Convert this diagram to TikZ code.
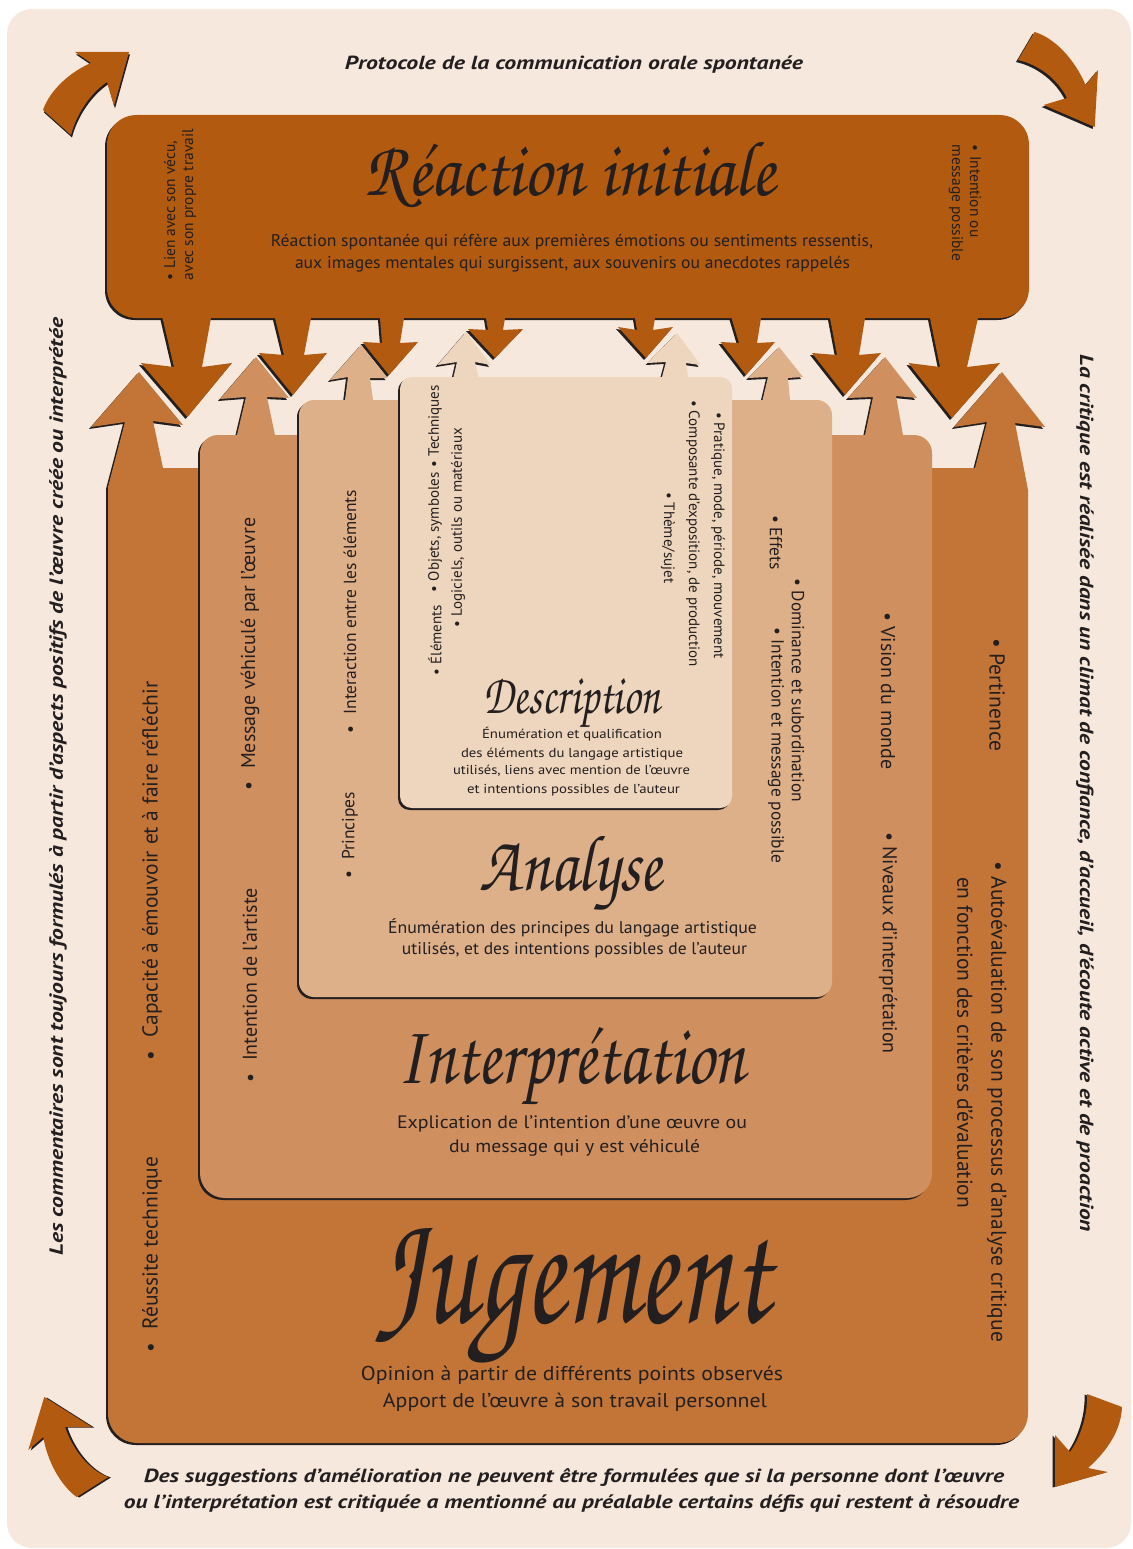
\documentclass[tikz,border=0pt]{standalone}
\usepackage{fontspec}
\setmainfont{PT Sans}
\newfontfamily\handf{TeX Gyre Chorus}
\usepackage{graphicx}
\definecolor{cream}{HTML}{F6E8DC}
\definecolor{cR}{HTML}{B15A10}
\definecolor{cJ}{HTML}{C27537}
\definecolor{cI}{HTML}{CF8F5F}
\definecolor{cA}{HTML}{DDB08A}
\definecolor{cD}{HTML}{EED5BD}
\definecolor{ink}{HTML}{231F20}
\tikzset{
  shad/.style={fill=ink, shift={(-2,2)}},
  tx/.style={text=ink, inner sep=0pt, outer sep=0pt},
  up/.style={rotate=90, anchor=west},
  dn/.style={rotate=-90, anchor=west},
  fD/.style={font=\fontsize{15}{18}\selectfont},
  fA/.style={font=\fontsize{17.5}{21}\selectfont},
  fI/.style={font=\fontsize{20}{24}\selectfont},
  fJ/.style={font=\fontsize{21.5}{26}\selectfont},
  fT/.style={font=\fontsize{15.5}{18}\selectfont},
  fB/.style={font=\fontsize{19}{19}\selectfont\bfseries\itshape},
}
\newcommand\pathTop{(107,145) .. controls (107,128) and (120,115) .. (137,115) -- (999,115) .. controls (1016,115) and (1029,128) .. (1029,145) -- (1029,288) .. controls (1029,305) and (1016,318) .. (999,318) -- (137,318) .. controls (120,318) and (107,305) .. (107,288) -- cycle}
\newcommand\pathJ{(108,487) -- (125,422) -- (91,427) -- (139,372) -- (183,425) -- (153,421) -- (163,468) -- (975,468) -- (987,422) -- (954,427) -- (1002,372) -- (1045,427) -- (1015,423) -- (1028,490) -- (1028,1413) .. controls (1028,1430) and (1015,1443) .. (998,1443) -- (138,1443) .. controls (121,1443) and (108,1430) .. (108,1413) -- cycle}
\newcommand\pathI{(200,453) .. controls (200,443) and (208,435) .. (218,435) -- (237,435) -- (246,397) -- (220,399) -- (256,357) -- (289,398) -- (267,397) -- (275,435) -- (865,435) -- (873,397) -- (848,398) -- (885,357) -- (917,398) -- (896,396) -- (903,435) -- (914,435) .. controls (924,435) and (932,443) .. (932,453) -- (932,1173) .. controls (932,1187) and (921,1198) .. (907,1198) -- (225,1198) .. controls (211,1198) and (200,1187) .. (200,1173) -- cycle}
\newcommand\pathA{(299,415) .. controls (299,407) and (306,400) .. (314,400) -- (345,400) -- (348,377) -- (330,380) -- (361,345) -- (387.5,378) -- (370,378) -- (373,400) -- (762.5,400) -- (768,377) -- (748,378) -- (779,347) -- (803,377) -- (788,378) -- (790,400) -- (817,400) .. controls (825,400) and (832,407) .. (832,415) -- (832,982) .. controls (832,990) and (825,997) .. (817,997) -- (314,997) .. controls (306,997) and (299,990) .. (299,982) -- cycle}
\newcommand\pathD{(400,389) .. controls (400,382) and (405,377) .. (412,377) -- (453.5,377) -- (457,362) -- (437.5,365) -- (466,332) -- (491,365) -- (475,362) -- (478.6,377) -- (662,377) -- (666,362) -- (647.6,363) -- (677,333) -- (700.5,365) -- (686,363) -- (688,377) -- (720,377) .. controls (727,377) and (732,382) .. (732,389) -- (732,796) .. controls (732,803) and (727,808) .. (720,808) -- (412,808) .. controls (405,808) and (400,803) .. (400,796) -- cycle}
\newcommand\pathTL{(43,110) .. controls (50,90) and (70,72) .. (91,63) -- (75,52) -- (129,52) -- (114,106) -- (107,82) .. controls (92,92) and (77,112) .. (71,135) -- cycle}
\newcommand\pathTR{(1034.5,32) .. controls (1055,38) and (1075,60) .. (1085.5,85) -- (1098,70) -- (1094.7,127) -- (1043.6,105) -- (1067,98) .. controls (1058,80) and (1040,65) .. (1018,60) -- cycle}
\newcommand\pathBL{(76.7,1497) .. controls (60,1485) and (47,1460) .. (43.3,1437) -- (28.3,1450) -- (44.3,1397) -- (91.7,1427) -- (65,1427) .. controls (72,1448) and (88,1470) .. (108.3,1477) -- cycle}
\newcommand\pathBR{(1087,1394) .. controls (1088,1415) and (1080,1438) .. (1070,1452) -- (1055,1435) -- (1055,1487) -- (1108,1472) -- (1088,1468) .. controls (1108,1450) and (1121,1430) .. (1122,1407) -- cycle}
\newcommand\downarrows[1]{%
  \foreach \sl/\sr/\bl/\br/\yb/\wl/\wr/\yw/\tx/\ty in {
    162.5/211/174/202/367/141/232/363/187.5/417,
    275/311/284/304/355/259/327/353/293/395,
    380/404/382/400/343/362.5/418/342/389/375,
    486/505/488/503/330/468/523/329/495/358,
    635/655/637/653/330/618/673/327/646/358,
    731.5/761/739/757/343/720.6/775/342/746/375,
    830/865/837/859/355/812/881/353/845/395,
    930/978/940/967/367/908.5/1000/363/952/418}
  {\fill[#1] (\sl,300) -- (\sl,318) -- (\bl,\yb) -- (\wl,\yw) -- (\tx,\ty) -- (\wr,\yw) -- (\br,\yb) -- (\sr,318) -- (\sr,300) -- cycle;}}
\begin{document}
\begin{tikzpicture}[x=1pt,y=-1pt]
\useasboundingbox (0,0) rectangle (1132,1549);
\fill[white] (0,0) rectangle (1132,1549);
\fill[cream, rounded corners=25pt] (7,9) rectangle (1131,1548);
% curved arrows
\fill[fill=ink, shift={(1,2.5)}] \pathTL; \fill[cR] \pathTL;
\fill[fill=ink, shift={(-2,2)}] \pathTR; \fill[cR] \pathTR;
\fill[fill=ink, shift={(2.5,0.5)}] \pathBL; \fill[cR] \pathBL;
\fill[fill=ink, shift={(-2.5,0.5)}] \pathBR; \fill[cR] \pathBR;
% top box
\fill[shad] \pathTop;
\downarrows{shad}
\fill[cR] \pathTop;
\downarrows{cR}
% nested boxes
\fill[shad] \pathJ; \fill[cJ] \pathJ;
\fill[shad] \pathI; \fill[cI] \pathI;
\fill[shad] \pathA; \fill[cA] \pathA;
\fill[shad] \pathD; \fill[cD] \pathD;
% outer texts
\node[tx, fB, anchor=base] (title) at (574,70) {\resizebox{458pt}{\height}{Protocole de la communication orale spontanée}};
\node[tx, fB, rotate=90] (leftnote) at (58,786.5) {\resizebox{937pt}{\height}{Les commentaires sont toujours formulés à partir d’aspects positifs de l’œuvre créée ou interprétée}};
\node[tx, fB, rotate=-90] (rightnote) at (1085,793.5) {\resizebox{877pt}{\height}{La critique est réalisée dans un climat de confiance, d’accueil, d’écoute active et de proaction}};
\node[tx, fB, anchor=base] (bottom1) at (574,1482) {\resizebox{860pt}{\height}{Des suggestions d’amélioration ne peuvent être formulées que si la personne dont l’œuvre}};
\node[tx, fB, anchor=base] (bottom2) at (571.5,1508) {\resizebox{895pt}{\height}{ou l’interprétation est critiquée a mentionné au préalable certains défis qui restent à résoudre}};
% Reaction initiale
\node[tx, anchor=base] (tR) at (570,195) {\resizebox{410pt}{53pt}{\handf Réaction initiale}};
\node[tx, anchor=base, font=\fontsize{17}{17}\selectfont] (r1) at (572,247) {\resizebox{602pt}{\height}{Réaction spontanée qui réfère aux premières émotions ou sentiments ressentis,}};
\node[tx, anchor=base, font=\fontsize{17}{17}\selectfont] (r2) at (572.5,268.5) {\resizebox{555pt}{\height}{aux images mentales qui surgissent, aux souvenirs ou anecdotes rappelés}};
\node[tx, fT, up, align=left] (rl) at (180,280) {•\ Lien avec son vécu,\\avec son propre travail};
\node[tx, fT, dn, align=left] (rr) at (965,145) {•\ Intention ou\\message possible};
% Description
\node[tx, fD, up] (d1) at (435,675) {•\ Éléments};
\node[tx, fD, up] (d2) at (435,592) {•\ Objets, symboles};
\node[tx, fD, up] (d3) at (435,467) {•\ Techniques};
\node[tx, fD, up] (d4) at (458,627) {•\ Logiciels, outils ou matériaux};
\node[tx, fD, dn] (d5) at (718,412) {•\ Pratique, mode, période, mouvement};
\node[tx, fD, dn] (d6) at (693,400) {•\ Composante d’exposition, de production};
\node[tx, fD, dn] (d7) at (668,492) {•\ Thème/sujet};
\node[tx, anchor=base] (tD) at (572,713) {\resizebox{176pt}{35pt}{\handf Description}};
\node[tx, font=\fontsize{13}{13}\selectfont, anchor=base] (dt1) at (572,738) {\resizebox{180pt}{\height}{Énumération et qualification}};
\node[tx, font=\fontsize{13}{13}\selectfont, anchor=base] (dt2) at (572,757) {\resizebox{222pt}{\height}{des éléments du langage artistique}};
\node[tx, font=\fontsize{13}{13}\selectfont, anchor=base] (dt3) at (571.5,774) {\resizebox{237pt}{\height}{utilisés, liens avec mention de l’œuvre}};
\node[tx, font=\fontsize{13}{13}\selectfont, anchor=base] (dt4) at (573.5,793) {\resizebox{213pt}{\height}{et intentions possibles de l’auteur}};
% Analyse
\node[tx, fA, up] (a1) at (350,878) {•\hspace{0.6em}Principes};
\node[tx, fA, up] (a2) at (350,733) {•\hspace{0.6em}Interaction entre les éléments};
\node[tx, fA, dn] (a3) at (798,578) {•\ Dominance et subordination};
\node[tx, fA, dn] (a4) at (776,515) {•\ Effets};
\node[tx, fA, dn] (a5) at (776,627) {•\ Intention et message possible};
\node[tx, anchor=base] (tA) at (571,890) {\resizebox{182pt}{54pt}{\handf Analyse}};
\node[tx, font=\fontsize{17}{17}\selectfont, anchor=base] (at1) at (572.5,933) {\resizebox{369pt}{\height}{Énumération des principes du langage artistique}};
\node[tx, font=\fontsize{17}{17}\selectfont, anchor=base] (at2) at (574.5,954) {\resizebox{345pt}{\height}{utilisés, et des intentions possibles de l’auteur}};
% Interpretation
\node[tx, fI, up] (i1) at (250,1082) {•\hspace{0.6em}Intention de l’artiste};
\node[tx, fI, up] (i2) at (250,790) {•\hspace{0.6em}Message véhiculé par l’œuvre};
\node[tx, fI, dn] (i3) at (888,612) {•\ Vision du monde};
\node[tx, fI, dn] (i4) at (888,832) {•\ Niveaux d’interprétation};
\node[tx, anchor=base] (tI) at (571.5,1083) {\resizebox{347pt}{56pt}{\handf Interprétation}};
\node[tx, font=\fontsize{18}{18}\selectfont, anchor=base] (it1) at (572,1128) {\resizebox{350pt}{\height}{Explication de l’intention d’une œuvre ou}};
\node[tx, font=\fontsize{18}{18}\selectfont, anchor=base] (it2) at (574.5,1152) {\resizebox{251pt}{\height}{du message qui y est véhiculé}};
% Jugement
\node[tx, fJ, up] (j1) at (152,1060) {•\hspace{0.6em}Capacité à émouvoir et à faire réfléchir};
\node[tx, fJ, up] (j2) at (152,1352) {•\hspace{0.6em}Réussite technique};
\node[tx, fJ, dn] (j3) at (997,638) {•\ Pertinence};
\node[tx, fJ, dn] (j4) at (997,861) {•\ Autoévaluation de son processus d’analyse critique};
\node[tx, fJ, dn] (j5) at (965,877) {en fonction des critères d’évaluation};
\node[tx, anchor=base] (tJ) at (573,1322) {\resizebox{394pt}{94pt}{\handf Jugement}};
\node[tx, font=\fontsize{20}{20}\selectfont, anchor=base] (jt1) at (572,1380) {\resizebox{422pt}{\height}{Opinion à partir de différents points observés}};
\node[tx, font=\fontsize{20}{20}\selectfont, anchor=base] (jt2) at (575,1407) {\resizebox{384pt}{\height}{Apport de l’œuvre à son travail personnel}};
\end{tikzpicture}
\end{document}
